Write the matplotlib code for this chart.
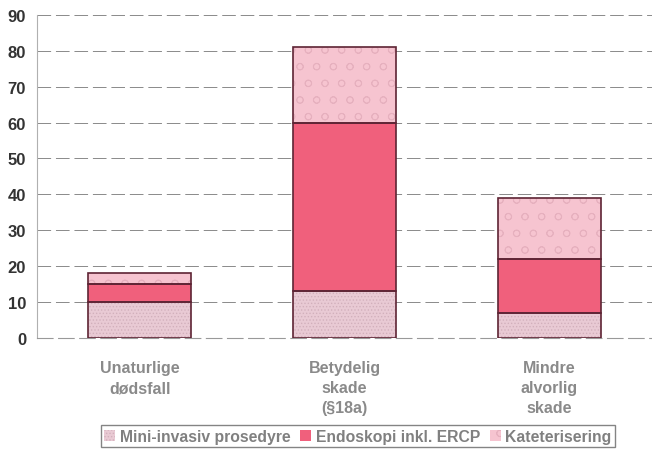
import matplotlib.pyplot as plt
import numpy as np

plt.rcParams['font.family'] = ['Liberation Sans', 'DejaVu Sans']
plt.rcParams['hatch.linewidth'] = 0.6

# data
categories = ['Unaturlige\ndødsfall', 'Betydelig\nskade\n(§18a)', 'Mindre\nalvorlig\nskade']
series_names = ['Mini-invasiv prosedyre', 'Endoskopi inkl. ERCP', 'Kateterisering']
mini_invasiv = [10, 13, 7]
endoskopi = [5, 47, 15]
kateterisering = [3, 21, 17]
y_ticks = [0, 10, 20, 30, 40, 50, 60, 70, 80, 90]

fill_colors = ['#e9cad4', '#f0607c', '#f6c4d0']
hatch_colors = ['#d2b0bc', '#e85a76', '#e6b0be']
hatches = ['.....', None, 'o']
edge = '#5e2434'

fig = plt.figure(figsize=(6.52, 4.52), dpi=100)
ax = fig.add_axes([0.057, 0.25, 0.943, 0.715])

x = np.arange(len(categories))
width = 0.5
bottom = np.zeros(len(categories))
handles = []
for vals, name, fc, hc, h in zip([mini_invasiv, endoskopi, kateterisering], series_names,
                                  fill_colors, hatch_colors, hatches):
    vals = np.array(vals, dtype=float)
    b = ax.bar(x, vals, width, bottom=bottom, color=fc, edgecolor=hc, hatch=h,
               linewidth=0, zorder=2, label=name)
    ax.bar(x, vals, width, bottom=bottom, fill=False, edgecolor=edge, linewidth=1.2, zorder=3)
    handles.append(b)
    bottom += vals

ax.set_xlim(-0.5, 2.5)
ax.set_ylim(0, 90)
ax.set_yticks(y_ticks)
ax.yaxis.grid(True, linestyle=(0, (14, 5)), color='#8a8a8a', linewidth=0.7, zorder=0)
ax.set_axisbelow(True)

for s in ['top', 'right']:
    ax.spines[s].set_visible(False)
ax.spines['left'].set_color('#b0b0b0')
ax.spines['bottom'].set_color('#999999')
ax.spines['bottom'].set_linestyle((0, (14, 5)))

ax.set_xticks(x)
ax.set_xticklabels(categories, fontweight='bold', color='#8a8a8a', fontsize=11.5,
                   linespacing=1.4)
ax.tick_params(axis='x', length=0, pad=16)
ax.tick_params(axis='y', length=0, labelsize=12, labelcolor='#333333', pad=8)
for lbl in ax.get_yticklabels():
    lbl.set_fontweight('bold')

leg = fig.legend(handles=handles, loc='lower center', bbox_to_anchor=(0.549, -0.008), ncol=3,
                 frameon=True, fancybox=False, edgecolor='#666666', fontsize=11.3,
                 handlelength=0.7, handleheight=0.7, handletextpad=0.3, columnspacing=0.6,
                 borderpad=0.2)
for t in leg.get_texts():
    t.set_fontweight('bold')
    t.set_color('#808080')

fig.savefig('out.png', dpi=100)
